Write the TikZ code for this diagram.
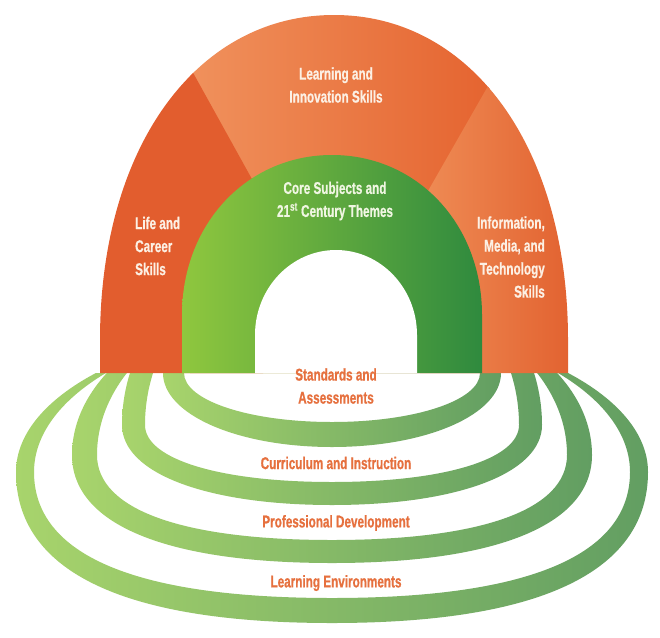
\documentclass[tikz,border=0pt]{standalone}
\usepackage{fontspec}
\setmainfont{Liberation Sans}[FakeStretch=0.69, BoldFeatures={FakeBold=0.6}]
\definecolor{lifeC}{RGB}{226,93,46}
\definecolor{topL}{RGB}{240,145,92}
\definecolor{topR}{RGB}{229,100,48}
\definecolor{infoL}{RGB}{239,140,85}
\definecolor{infoR}{RGB}{226,98,48}
\definecolor{greenL}{RGB}{143,199,62}
\definecolor{greenR}{RGB}{47,138,62}
\definecolor{ringL}{RGB}{168,212,108}
\definecolor{ringR}{RGB}{98,158,98}
\definecolor{labelO}{RGB}{230,112,62}
\definecolor{creamT}{RGB}{252,240,228}
\definecolor{paleT}{RGB}{240,246,226}
% cx cy a b bt k : closed rounded edge; lower part with control factor k
\newcommand{\ringedge}[6]{({#1-#3},#2) .. controls ({#1-#3},{#2+#6*#4}) and ({#1-#6*#3},{#2+#4}) .. (#1,{#2+#4})
 .. controls ({#1+#6*#3},{#2+#4}) and ({#1+#3},{#2+#6*#4}) .. ({#1+#3},#2)
 .. controls ({#1+#3},{#2-0.552*#5}) and ({#1+0.552*#3},{#2-#5}) .. (#1,{#2-#5})
 .. controls ({#1-0.552*#3},{#2-#5}) and ({#1-#3},{#2-0.552*#5}) .. cycle }
\newcommand{\archouter}{(100,373) -- (100,340) .. controls (100,148) and (196,15) .. (334,15) .. controls (472,15) and (568,148) .. (568,340) -- (568,373) -- cycle}
\tikzset{
  ringfill/.style={even odd rule, left color=ringL, right color=ringR},
  lbl/.style={font=\bfseries\fontsize{17}{23}\selectfont, inner sep=0pt},
  onorange/.style={lbl, text=creamT},
  ongreen/.style={lbl, text=paleT},
  orangelbl/.style={lbl, text=labelO},
}
\begin{document}
\begin{tikzpicture}[x=1pt,y=-1pt]
\useasboundingbox (0,0) rectangle (660,637);
\fill[white] (0,0) rectangle (660,637);
% rings
\begin{scope}
\clip (0,373) rectangle (660,637);
\shade[ringfill] \ringedge{332}{472}{316}{151}{149}{0.66} \ringedge{332}{472}{298}{126}{152}{0.66};
\shade[ringfill] \ringedge{332}{455}{260}{108}{164}{0.64} \ringedge{332}{455}{235}{85}{168}{0.64};
\shade[ringfill] \ringedge{332}{425}{210}{80}{190}{0.6} \ringedge{332}{425}{187}{57}{179}{0.6};
\shade[ringfill] \ringedge{332}{373}{169}{74}{74}{0.56} \ringedge{332}{373}{148}{49}{49}{0.56};
\end{scope}
% orange arch
\begin{scope}
\clip \archouter;
\shade[left color=topL, right color=topR] (190,0) rectangle (490,373);
\fill[lifeC] (181,51) -- (263,199) -- (263,380) -- (98,380) -- (98,51) -- cycle;
\shade[left color=infoL, right color=infoR] (500,65) -- (420,205) -- (420,380) -- (572,380) -- (572,65) -- cycle;
\end{scope}
% green arch
\shade[left color=greenL, right color=greenR] (182,373) -- (182,315) .. controls (182,224) and (247,155) .. (332,155) .. controls (417,155) and (482,224) .. (482,315) -- (482,373) -- cycle;
% hole
\fill[white] (255,373) -- (255,335) .. controls (255,288.1) and (291.3,250) .. (336,250) .. controls (380.7,250) and (417,288.1) .. (417,335) -- (417,373) -- cycle;
% labels
\node[onorange, align=center] (learn) at (336,85) {Learning and\\Innovation Skills};
\node[ongreen, align=center] (core) at (335,201) {Core Subjects and\\21\textsuperscript{st} Century Themes};
\node[onorange, align=left, anchor=west] (life) at (135,246) {Life and\\Career\\Skills};
\node[onorange, align=right, anchor=east] (info) at (545,257) {Information,\\Media, and\\Technology\\Skills};
\node[orangelbl, align=center] (stand) at (336,386) {Standards and\\Assessments};
\node[orangelbl] (curr) at (336,463) {Curriculum and Instruction};
\node[orangelbl] (prof) at (336,523) {Professional Development};
\node[orangelbl] (env) at (336,583) {Learning Environments};
\end{tikzpicture}
\end{document}
